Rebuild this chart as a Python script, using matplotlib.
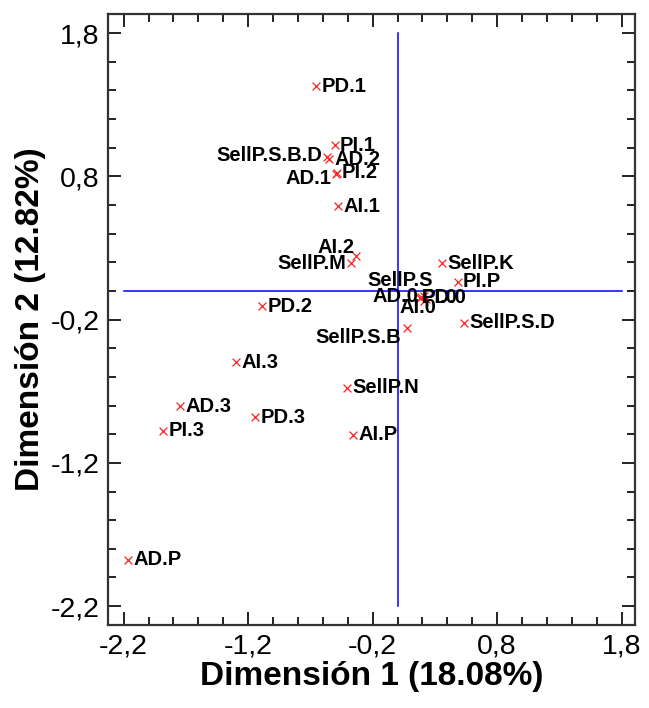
import numpy as np
import matplotlib
matplotlib.use("Agg")
import matplotlib.pyplot as plt

plt.rcParams['font.family'] = ['Liberation Sans', 'DejaVu Sans']

# point names and coordinates (dimension 1, dimension 2)
names = ['PD.1', 'PI.1', 'SellP.S.B.D', 'AD.2', 'AD.1', 'PI.2', 'AI.1',
         'AI.2', 'SellP.M', 'SellP.K', 'PI.P', 'SellP.S', 'AD.0', 'AI.0',
         'PI.0', 'PD.0', 'PD.2', 'SellP.S.B', 'SellP.S.D', 'AI.3', 'SellP.N',
         'AD.3', 'PD.3', 'PI.3', 'AI.P', 'AD.P']
dim1 = [-0.658, -0.506, -0.570, -0.554, -0.498, -0.490, -0.482,
        -0.337, -0.377, 0.353, 0.482, 0.209, 0.177, 0.209,
        0.185, 0.225, -1.092, 0.072, 0.530, -1.300, -0.409,
        -1.750, -1.148, -1.886, -0.361, -2.167]
dim2 = [1.431, 1.019, 0.935, 0.921, 0.817, 0.824, 0.593,
        0.244, 0.195, 0.195, 0.063, -0.035, -0.049, -0.070,
        -0.042, -0.056, -0.105, -0.258, -0.223, -0.496, -0.677,
        -0.803, -0.880, -0.977, -1.005, -1.878]

ticks = [-2.2, -1.2, -0.2, 0.8, 1.8]
tick_labels = ['-2,2', '-1,2', '-0,2', '0,8', '1,8']

# label placement (offset in points, horizontal alignment); default is right of the point
label_pos = {
    'SellP.S.B.D': ((-3, 1), 'right'),
    'AD.1': ((-3, -3), 'right'),
    'AI.2': ((-1, 6), 'right'),
    'SellP.M': ((-3, 0), 'right'),
    'SellP.S': ((7, 11), 'right'),
    'AD.0': ((-1, 1), 'right'),
    'AI.0': ((-4, -5), 'center'),
    'PI.0': ((1, 0), 'left'),
    'PD.0': ((-3, 1), 'left'),
    'SellP.S.B': ((-4, -7), 'right'),
}

fig = plt.figure(figsize=(6.49, 7.08), dpi=100)
ax = fig.add_axes([0.166, 0.1172, 0.812, 0.8626])

ax.plot([-2.2, 1.8], [0, 0], color='#0000ff', lw=1.1, zorder=1)
ax.plot([0, 0], [-2.2, 1.8], color='#0000ff', lw=1.1, zorder=1)

ax.scatter(dim1, dim2, marker='x', color='#ff2020', s=32, linewidths=0.9, zorder=3)

for n, x, y in zip(names, dim1, dim2):
    off, ha = label_pos.get(n, ((4, 0), 'left'))
    ax.annotate(n, (x, y), xytext=off, textcoords='offset points',
                ha=ha, va='center', fontsize=14.5, fontweight='bold', zorder=4)

ax.set_xlim(-2.328, 1.905)
ax.set_ylim(-2.332, 1.932)
ax.set_xticks(ticks)
ax.set_xticklabels(tick_labels)
ax.set_yticks(ticks)
ax.set_yticklabels(tick_labels)
minor = np.arange(-2.2, 1.81, 0.2)
ax.set_xticks(minor, minor=True)
ax.set_yticks(minor, minor=True)

ax.tick_params(which='both', direction='in', top=True, right=True,
               width=1.4, color='#222222', labelsize=20.5)
ax.tick_params(which='major', length=9.5, pad=6)
ax.tick_params(which='minor', length=5.5)
for s in ax.spines.values():
    s.set_linewidth(1.6)
    s.set_color('#333333')

ax.set_xlabel('Dimensión 1 (18.08%)', fontsize=24, fontweight='bold', labelpad=1)
ax.set_ylabel('Dimensión 2 (12.82%)', fontsize=24, fontweight='bold', labelpad=3)

fig.savefig('out.png', dpi=100)
